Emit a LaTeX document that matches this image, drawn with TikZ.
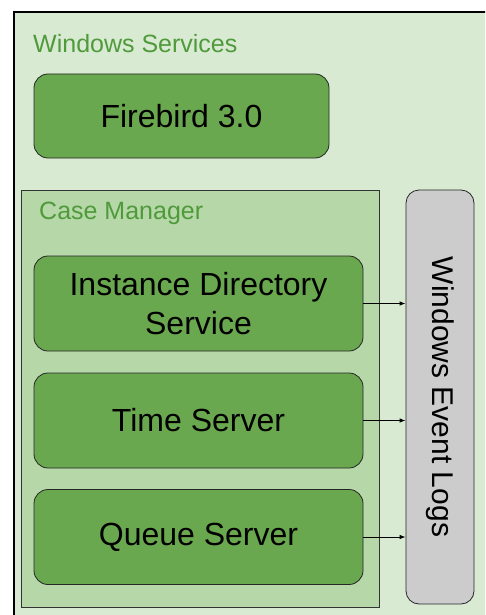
\documentclass[tikz,border=0pt]{standalone}
\usepackage{fontspec}
\setmainfont{Liberation Sans}
\usetikzlibrary{arrows.meta}

\definecolor{hostfill}{HTML}{D9EAD3}
\definecolor{groupfill}{HTML}{B6D7A8}
\definecolor{svcgreen}{HTML}{6AA84F}
\definecolor{labelgreen}{HTML}{4F9A3A}
\definecolor{logsgray}{HTML}{CCCCCC}

\begin{document}
\begin{tikzpicture}[x=1pt,y=-1pt,
  service/.style={rectangle,draw=black!85,fill=svcgreen,rounded corners=14pt,line width=0.8pt,
    minimum width=329pt,minimum height=95pt,align=center,font=\fontsize{32}{39}\selectfont},
  grouplabel/.style={anchor=base west,inner sep=0pt,text=labelgreen,font=\fontsize{25}{30}\selectfont},
  logline/.style={-{Latex[length=6pt,width=4.5pt]},line width=0.8pt}]

\clip (0,0) rectangle (485,615);

% outer host box, runs off the page at right and bottom
\filldraw[fill=hostfill,draw=black,line width=1.3pt] (14,12) rectangle (505,640);
\node (winsvc) at (33,53) [grouplabel] {Windows Services};

\node (firebird) at (181.5,116) [service,minimum width=295pt,minimum height=84pt] {Firebird 3.0};

% case manager group
\node (casemgr) at (200,398.5) [rectangle,draw=black!80,fill=groupfill,line width=0.8pt,minimum width=358pt,minimum height=417pt] {};
\node (cmlabel) at (39,219) [grouplabel] {Case Manager};

\node (ids) at (198.5,303.5) [service] {Instance Directory\\Service};
\node (timesrv) at (198.5,420.5) [service] {Time Server};
\node (queuesrv) at (198.5,537) [service] {Queue Server};

\node (logs) at (440,397) [rectangle,draw=black!85,fill=logsgray,rounded corners=13pt,line width=0.8pt,
  rotate=-90,minimum width=414pt,minimum height=68pt,font=\fontsize{30}{36}\selectfont] {Windows Event Logs};

\draw[logline] (ids.east) -- (ids.east -| logs.south);
\draw[logline] (timesrv.east) -- (timesrv.east -| logs.south);
\draw[logline] (queuesrv.east) -- (queuesrv.east -| logs.south);

\end{tikzpicture}
\end{document}
